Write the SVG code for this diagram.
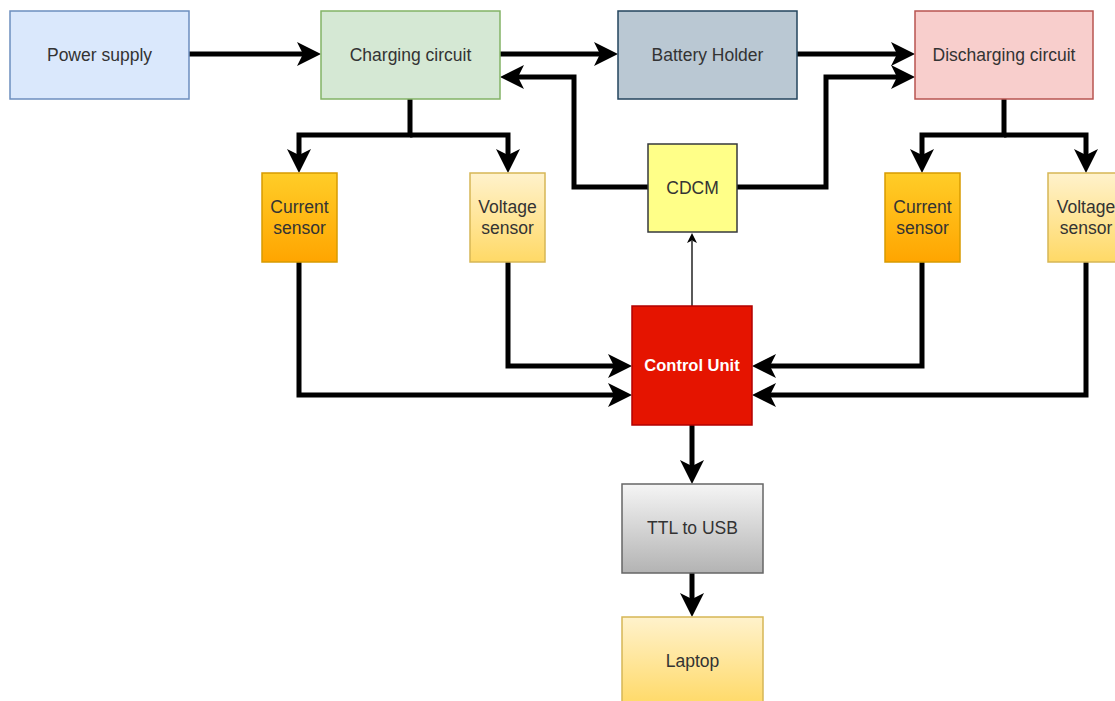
<svg xmlns="http://www.w3.org/2000/svg" width="1115" height="701" viewBox="0 0 1115 701">
<style>
.lbl{font-family:"Liberation Sans",Arial,sans-serif;font-size:17.5px;fill:#333333;text-anchor:middle;dominant-baseline:central}
.wire{fill:none;stroke:#000;stroke-width:5}
.thin{fill:none;stroke:#000;stroke-width:1.3}
</style>
<defs>
<marker id="arr" markerUnits="userSpaceOnUse" viewBox="0 -13 26 26" markerWidth="26" markerHeight="26" refX="6" refY="0" orient="auto" overflow="visible">
<path d="M0,-12 L24,0 L0,12 L6,0 Z" fill="#000"/>
</marker>
<marker id="arrs" markerUnits="userSpaceOnUse" viewBox="0 -6 12 12" markerWidth="12" markerHeight="12" refX="2" refY="0" orient="auto" overflow="visible">
<path d="M0,-5 L10,0 L0,5 L2.5,0 Z" fill="#000"/>
</marker>
<linearGradient id="gCur" x1="0" y1="0" x2="0" y2="1"><stop offset="0" stop-color="#ffcd28"/><stop offset="1" stop-color="#ffa500"/></linearGradient>
<linearGradient id="gVol" x1="0" y1="0" x2="0" y2="1"><stop offset="0" stop-color="#fff2cc"/><stop offset="1" stop-color="#ffd966"/></linearGradient>
<linearGradient id="gTtl" x1="0" y1="0" x2="0" y2="1"><stop offset="0" stop-color="#f5f5f5"/><stop offset="1" stop-color="#b3b3b3"/></linearGradient>
</defs>
<rect width="1115" height="701" fill="#ffffff"/>

<g id="connectors">
<path class="wire" d="M189,54 H303" marker-end="url(#arr)"/>
<path class="wire" d="M500,54 H600" marker-end="url(#arr)"/>
<path class="wire" d="M797,54 H897" marker-end="url(#arr)"/>
<path class="wire" d="M648,187 H574 V77 H518" marker-end="url(#arr)"/>
<path class="wire" d="M737,187 H826 V77 H897" marker-end="url(#arr)"/>
<path class="wire" d="M410,99 V135 H299 V155" marker-end="url(#arr)"/>
<path class="wire" d="M410,135 H508 V155" marker-end="url(#arr)"/>
<path class="wire" d="M1004,99 V135 H922 V155" marker-end="url(#arr)"/>
<path class="wire" d="M1004,135 H1086 V155" marker-end="url(#arr)"/>
<path class="wire" d="M299,262 V395 H614" marker-end="url(#arr)"/>
<path class="wire" d="M508,262 V366 H614" marker-end="url(#arr)"/>
<path class="wire" d="M922,262 V366 H770" marker-end="url(#arr)"/>
<path class="wire" d="M1086,262 V395 H770" marker-end="url(#arr)"/>
<path class="thin" d="M692,306 V241" marker-end="url(#arrs)"/>
<path class="wire" d="M692,425 V466" marker-end="url(#arr)"/>
<path class="wire" d="M692,573 V599" marker-end="url(#arr)"/>
</g>

<g id="power-supply">
<rect x="10" y="11" width="179" height="88" fill="#dae8fc" stroke="#6c8ebf" stroke-width="1.5"/>
<text class="lbl" x="99.5" y="55">Power supply</text>
</g>
<g id="charging-circuit">
<rect x="321" y="11" width="179" height="88" fill="#d5e8d4" stroke="#82b366" stroke-width="1.5"/>
<text class="lbl" x="410.5" y="55">Charging circuit</text>
</g>
<g id="battery-holder">
<rect x="618" y="11" width="179" height="88" fill="#bac8d3" stroke="#23445d" stroke-width="1.5"/>
<text class="lbl" x="707.5" y="55">Battery Holder</text>
</g>
<g id="discharging-circuit">
<rect x="915" y="11" width="178" height="88" fill="#f8cecc" stroke="#b85450" stroke-width="1.5"/>
<text class="lbl" x="1004" y="55">Discharging circuit</text>
</g>
<g id="current-sensor-1">
<rect x="262" y="173" width="75" height="89" fill="url(#gCur)" stroke="#d79b00" stroke-width="1.5"/>
<text class="lbl" x="299.5" y="207">Current</text>
<text class="lbl" x="299.5" y="228">sensor</text>
</g>
<g id="voltage-sensor-1">
<rect x="470" y="173" width="75" height="89" fill="url(#gVol)" stroke="#d6b656" stroke-width="1.5"/>
<text class="lbl" x="507.5" y="207">Voltage</text>
<text class="lbl" x="507.5" y="228">sensor</text>
</g>
<g id="cdcm">
<rect x="648" y="144" width="89" height="88" fill="#ffff88" stroke="#36393d" stroke-width="1.5"/>
<text class="lbl" x="692.5" y="188">CDCM</text>
</g>
<g id="current-sensor-2">
<rect x="885" y="173" width="75" height="89" fill="url(#gCur)" stroke="#d79b00" stroke-width="1.5"/>
<text class="lbl" x="922.5" y="207">Current</text>
<text class="lbl" x="922.5" y="228">sensor</text>
</g>
<g id="voltage-sensor-2">
<rect x="1048" y="173" width="76" height="89" fill="url(#gVol)" stroke="#d6b656" stroke-width="1.5"/>
<text class="lbl" x="1086" y="207">Voltage</text>
<text class="lbl" x="1086" y="228">sensor</text>
</g>
<g id="control-unit">
<rect x="632" y="306" width="120" height="119" fill="#e51400" stroke="#b20000" stroke-width="1.5"/>
<text class="lbl" x="692" y="365" style="fill:#ffffff;font-weight:bold;font-size:16.5px">Control Unit</text>
</g>
<g id="ttl-to-usb">
<rect x="622" y="484" width="141" height="89" fill="url(#gTtl)" stroke="#666666" stroke-width="1.5"/>
<text class="lbl" x="692.5" y="528">TTL to USB</text>
</g>
<g id="laptop">
<rect x="622" y="617" width="141" height="89" fill="url(#gVol)" stroke="#d6b656" stroke-width="1.5"/>
<text class="lbl" x="692.5" y="661">Laptop</text>
</g>
</svg>
